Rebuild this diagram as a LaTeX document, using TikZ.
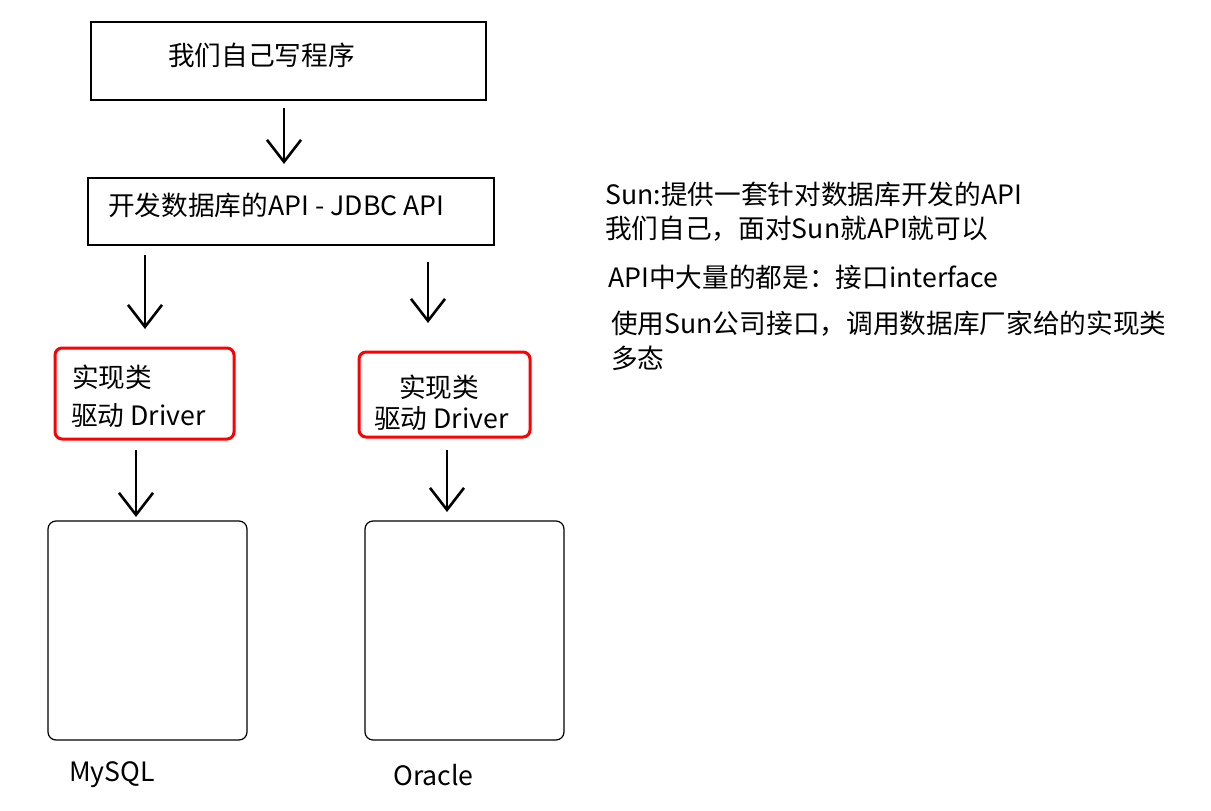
\documentclass[tikz,border=0pt]{standalone}
\usepackage{fontspec}
\setmainfont{Noto Sans CJK SC}
\usetikzlibrary{arrows.meta}

\begin{document}
\begin{tikzpicture}[x=1pt,y=-1pt,>={Straight Barb[length=22pt,width=34pt]},line width=2.6pt,
        box node/.style={draw,line width=1.2pt,inner sep=0pt},
        red node/.style={draw=red,line width=3pt,rounded corners=7pt,inner sep=0pt},
        db node/.style={draw,line width=1.2pt,rounded corners=8pt,inner sep=0pt},
        label node/.style={anchor=west,inner sep=0pt,font=\fontsize{26.67}{32}\selectfont}]

        \useasboundingbox[fill=white] (0,0) rectangle (1211,811);

        % boxes
        \node[box node,minimum width=395pt,minimum height=78pt] (program) at (288.5,61) {};
        \node[box node,minimum width=406pt,minimum height=67pt] (jdbc) at (291,211.5) {};
        \node[red node,minimum width=179pt,minimum height=91pt] (driverleft) at (144.5,393.5) {};
        \node[red node,minimum width=171pt,minimum height=85pt] (driverright) at (444.5,394.5) {};
        \node[db node,minimum width=199pt,minimum height=219pt] (mysql) at (147.5,630.5) {};
        \node[db node,minimum width=199pt,minimum height=219pt] (oracle) at (464.5,630.5) {};

        % texts
        \node[label node] (programtext) at (167,55) {我们自己写程序};
        \node[label node] (jdbctext) at (107,205) {开发数据库的API - JDBC API};
        \node[label node] (impleft) at (71,377) {实现类};
        \node[label node] (drvleft) at (70,416) {驱动 Driver};
        \node[label node] (impright) at (398,387) {实现类};
        \node[label node] (drvright) at (373,419) {驱动 Driver};
        \node[label node] (mysqltext) at (68,775) {MySQL};
        \node[label node] (oracletext) at (392,775) {Oracle};

        \node[label node] (note1) at (604,194) {Sun:提供一套针对数据库开发的API};
        \node[label node] (note2) at (604,229) {我们自己，面对Sun就API就可以};
        \node[label node] (note3) at (607,277) {API中大量的都是：接口interface};
        \node[label node] (note4) at (610,324) {使用Sun公司接口，调用数据库厂家给的实现类};
        \node[label node] (note5) at (610,358) {多态};

        % arrows
        \coordinate (a1) at (284,108);  \coordinate (b1) at (284,164);
        \coordinate (a2) at (145,255);  \coordinate (b2) at (145,329);
        \coordinate (a3) at (428,262);  \coordinate (b3) at (428,323);
        \coordinate (a4) at (136,450);  \coordinate (b4) at (136,517);
        \coordinate (a5) at (447,450);  \coordinate (b5) at (447,512);

        \path [->] (a1) edge (b1);
        \path [->] (a2) edge (b2);
        \path [->] (a3) edge (b3);
        \path [->] (a4) edge (b4);
        \path [->] (a5) edge (b5);
    \end{tikzpicture}
\end{document}
